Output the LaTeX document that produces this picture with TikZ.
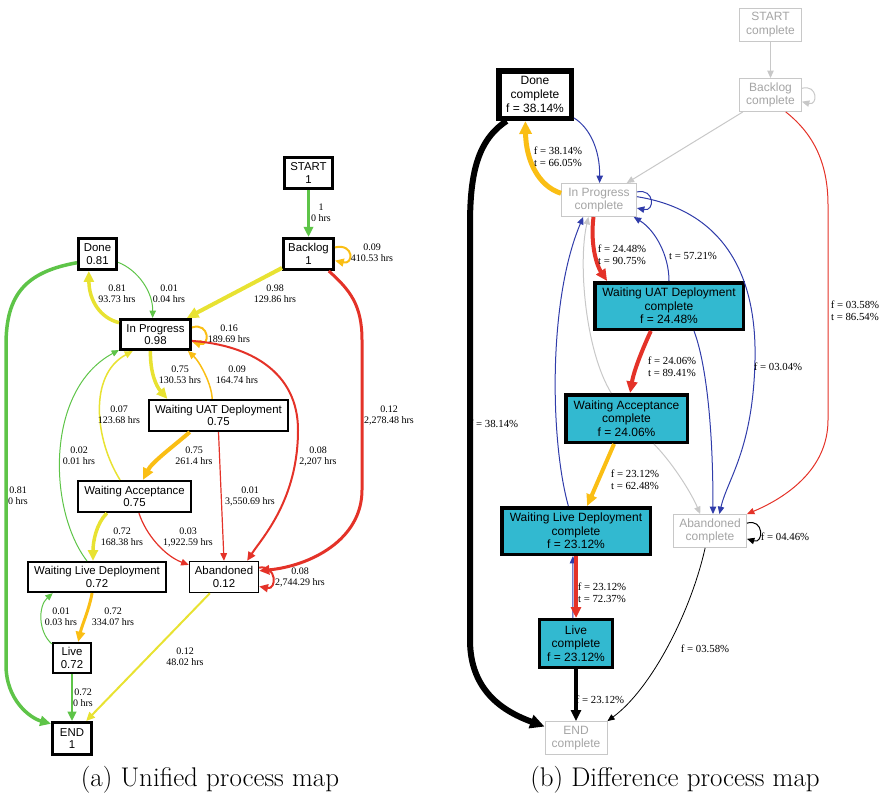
\documentclass[tikz,border=0pt]{standalone}
\usepackage{fontspec}
\newfontfamily\nodefont{Liberation Sans}
\newfontfamily\lblfont{Liberation Serif}
\usetikzlibrary{arrows.meta}
\definecolor{flowgreen}{RGB}{94,196,72}
\definecolor{flowyellow}{RGB}{232,226,50}
\definecolor{floworange}{RGB}{250,190,20}
\definecolor{flowred}{RGB}{228,50,40}
\definecolor{flowblue}{RGB}{48,60,170}
\definecolor{difffill}{RGB}{50,185,208}
\definecolor{fadegray}{RGB}{200,200,200}
\definecolor{fadetext}{RGB}{165,165,165}

\begin{document}
\begin{tikzpicture}[
            x=1pt, y=-1pt,
            box/.style={rectangle, draw, line width=3pt, align=center, inner sep=1pt,
                        font=\nodefont\fontsize{11.4}{12.7}\selectfont},
            midbox/.style={box, line width=2.2pt},
            thinbox/.style={box, line width=1.4pt},
            diffbox/.style={rectangle, draw, line width=3.5pt, fill=difffill, align=center,
                        inner sep=1pt, font=\nodefont\fontsize{12}{13.7}\selectfont},
            fadebox/.style={diffbox, draw=fadegray, line width=0.9pt, fill=white, text=fadetext},
            lbl/.style={font=\lblfont\fontsize{10}{11}\selectfont, align=center,
                        inner sep=0pt, text=black},
            dlbl/.style={lbl, font=\lblfont\fontsize{10.8}{11.7}\selectfont},
            arrow/.style={-{Triangle[length=6pt 1.4, width=5pt 1.4]}, line width=1pt},
            caption/.style={font=\fontsize{27}{31}\selectfont, inner sep=0pt}
        ]
            \useasboundingbox (0,0) rectangle (886,795);

            \node[box, minimum width=48pt, minimum height=31pt] (ustart) at (308.5,173) {START\\1};
            \node[box, minimum width=50pt, minimum height=31pt] (ubacklog) at (308.5,254) {Backlog\\1};
            \node[box, minimum width=38pt, minimum height=31pt] (udone) at (97.5,254) {Done\\0.81};
            \node[box, minimum width=70pt, minimum height=30pt] (uprog) at (155.5,334.5) {In Progress\\0.98};
            \node[midbox, minimum width=139pt, minimum height=31pt] (uuat) at (218.5,415.5) {Waiting UAT Deployment\\0.75};
            \node[midbox, minimum width=113pt, minimum height=31pt] (uacc) at (134.5,496.5) {Waiting Acceptance\\0.75};
            \node[midbox, minimum width=138pt, minimum height=30pt] (ulivedep) at (97,577) {Waiting Live Deployment\\0.72};
            \node[thinbox, minimum width=69pt, minimum height=31pt] (uaband) at (224,577) {Abandoned\\0.12};
            \node[midbox, minimum width=38pt, minimum height=30pt] (ulive) at (72,658) {Live\\0.72};
            \node[box, minimum width=39pt, minimum height=32pt] (uend) at (72,738.5) {END\\1};

            \draw[arrow, flowgreen, line width=3pt] (ustart) -- (ubacklog)
                node[lbl] (ul1) at (321,213) {1\\0 hrs};
            \draw[arrow, floworange, line width=2pt] (ubacklog.14) .. controls (354,243) and (354,265) .. (ubacklog.-14)
                node[lbl] (ul2) at (372,253) {0.09\\410.53 hrs};
            \draw[arrow, flowyellow, line width=4pt] (ubacklog) -- (uprog)
                node[lbl] (ul3) at (275,294) {0.98\\129.86 hrs};
            \draw[arrow, flowred, line width=3pt] (ubacklog.-40) .. controls (350,290) and (362,305) .. (362,340)
                -- (362,490) .. controls (362,540) and (310,566) .. (uaband.10)
                node[lbl] (ul4) at (389,415) {0.12\\2,278.48 hrs};
            \draw[arrow, flowgreen] (udone.-22) .. controls (138,270) and (153,292) .. (uprog.100)
                node[lbl] (ul5) at (169,294) {0.01\\0.04 hrs};
            \draw[arrow, flowyellow, line width=3.5pt] (uprog.162) .. controls (100,318) and (89,300) .. (udone.-117)
                node[lbl] (ul6) at (117,294) {0.81\\93.73 hrs};
            \draw[arrow, flowgreen, line width=3.5pt] (udone.-157) .. controls (25,272) and (6,295) .. (6,345)
                -- (6,665) .. controls (6,700) and (30,718) .. (uend.145)
                node[lbl] (ul7) at (18,496) {0.81\\0 hrs};
            \draw[arrow, floworange, line width=2pt] (uprog.11) .. controls (210,322) and (210,347) .. (uprog.-11)
                node[lbl] (ul8) at (229,334) {0.16\\189.69 hrs};
            \draw[arrow, flowyellow, line width=3.5pt] (uprog.-107) .. controls (150,372) and (156,386) .. (uuat.162)
                node[lbl] (ul9) at (180,375) {0.75\\130.53 hrs};
            \draw[arrow, floworange, line width=1.5pt] (uuat.111) .. controls (212,385) and (200,362) .. (uprog.-27)
                node[lbl] (ul10) at (237,375) {0.09\\164.74 hrs};
            \draw[arrow, flowred, line width=2pt] (uprog.-10) .. controls (250,345) and (298,372) .. (298,430)
                .. controls (298,500) and (262,538) .. (uaband.35)
                node[lbl] (ul11) at (318,456) {0.08\\2,207 hrs};
            \draw[arrow, floworange, line width=4pt] (uuat.-150) .. controls (175,445) and (152,462) .. (uacc.63)
                node[lbl] (ul12) at (194,456) {0.75\\261.4 hrs};
            \draw[arrow, flowred, line width=1.2pt] (uuat.south) -- (uaband.north)
                node[lbl] (ul13) at (250,496) {0.01\\3,550.69 hrs};
            \draw[arrow, flowyellow, line width=1.5pt] (uacc.131) .. controls (95,440) and (88,375) .. (uprog.-144)
                node[lbl] (ul14) at (119,415) {0.07\\123.68 hrs};
            \draw[arrow, flowgreen] (ulivedep.122) .. controls (48,510) and (45,390) .. (uprog.-157)
                node[lbl] (ul15) at (79,456) {0.02\\0.01 hrs};
            \draw[arrow, flowyellow, line width=3.5pt] (uacc.-149) .. controls (96,524) and (93,542) .. (ulivedep.104)
                node[lbl] (ul16) at (122,537) {0.72\\168.38 hrs};
            \draw[arrow, flowred, line width=1.2pt] (uacc.-75) .. controls (146,535) and (165,556) .. (uaband.161)
                node[lbl] (ul17) at (188,537) {0.03\\1,922.59 hrs};
            \draw[arrow, flowred, line width=2pt] (uaband.15) .. controls (277,565) and (277,590) .. (uaband.-15)
                node[lbl] (ul18) at (300,577) {0.08\\2,744.29 hrs};
            \draw[arrow, floworange, line width=3pt] (ulivedep.-107) .. controls (89,610) and (82,625) .. (ulive.69)
                node[lbl] (ul19) at (113,617) {0.72\\334.07 hrs};
            \draw[arrow, flowgreen] (ulive.145) .. controls (38,632) and (38,606) .. (ulivedep.-160)
                node[lbl] (ul20) at (61,617) {0.01\\0.03 hrs};
            \draw[arrow, flowgreen, line width=2.5pt] (ulive) -- (uend)
                node[lbl] (ul21) at (83,698) {0.72\\0 hrs};
            \draw[arrow, flowyellow, line width=2pt] (uaband.-131) -- (uend.51)
                node[lbl] (ul22) at (185,657) {0.12\\48.02 hrs};

            \node[fadebox, minimum width=62pt, minimum height=33pt] (dstart) at (770.5,24.5) {START\\complete};
            \node[fadebox, minimum width=62pt, minimum height=33pt] (dbacklog) at (770.5,95) {Backlog\\complete};
            \node[diffbox, fill=white, line width=5.5pt, minimum width=72.5pt, minimum height=47.5pt] (ddone) at (535,94.5) {Done\\complete\\f = 38.14\%};
            \node[fadebox, minimum width=75pt, minimum height=33pt] (dprog) at (599,200) {In Progress\\complete};
            \node[diffbox, minimum width=148.5pt, minimum height=46.5pt] (duat) at (669,306) {Waiting UAT Deployment\\complete\\f = 24.48\%};
            \node[diffbox, minimum width=121.5pt, minimum height=47.5pt] (dacc) at (626.5,418.5) {Waiting Acceptance\\complete\\f = 24.06\%};
            \node[diffbox, minimum width=148.5pt, minimum height=46.5pt] (dlivedep) at (576,531) {Waiting Live Deployment\\complete\\f = 23.12\%};
            \node[fadebox, minimum width=73pt, minimum height=33pt] (daband) at (710,531) {Abandoned\\complete};
            \node[diffbox, line width=3pt, minimum width=73pt, minimum height=48pt] (dlive) at (576,643.5) {Live\\complete\\f = 23.12\%};
            \node[fadebox, minimum width=62pt, minimum height=33pt] (dend) at (576,738) {END\\complete};

            \draw[arrow, fadegray] (dstart) -- (dbacklog);
            \draw[arrow, fadegray] (dbacklog.12) .. controls (818,84) and (818,106) .. (dbacklog.-12);
            \draw[arrow, fadegray] (dbacklog) -- (dprog);
            \draw[arrow, flowred] (dbacklog.-48) .. controls (815,135) and (828,165) .. (828,205)
                -- (828,420) .. controls (828,470) and (785,498) .. (daband.north east)
                node[dlbl] (dl1) at (855,311) {f = 03.58\%\\t = 86.54\%};
            \draw[arrow, floworange, line width=5pt] (dprog.170) .. controls (538,186) and (526,160) .. (ddone.-110)
                node[dlbl] (dl2) at (558,157) {f = 38.14\%\\t = 66.05\%};
            \draw[arrow, flowblue] (ddone.-31) .. controls (590,128) and (600,150) .. (dprog.88);
            \draw[arrow, flowblue] (dprog.12) .. controls (655,188) and (655,212) .. (dprog.-12);
            \draw[arrow, flowred, line width=4pt] (dprog.-108) .. controls (590,245) and (597,266) .. (duat.158)
                node[dlbl] (dl3) at (622,255) {f = 24.48\%\\t = 90.75\%};
            \draw[arrow, flowblue] (duat.90) .. controls (669,255) and (655,230) .. (dprog.-26)
                node[dlbl] (dl4) at (693,256) {t = 57.21\%};
            \draw[arrow, flowblue] (dprog.5) .. controls (720,210) and (757,270) .. (755,360)
                .. controls (753,450) and (727,480) .. (daband.61)
                node[dlbl] (dl5) at (778,367) {f = 03.04\%};
            \draw[arrow, flowblue] (duat.-45) .. controls (705,360) and (713,420) .. (daband.80);
            \draw[arrow, flowred, line width=4pt] (duat.-126) .. controls (643,348) and (634,370) .. (dacc.82)
                node[dlbl] (dl6) at (672,367) {f = 24.06\%\\t = 89.41\%};
            \draw[arrow, fadegray] (dacc.121) .. controls (585,350) and (578,262) .. (dprog.-122);
            \draw[arrow, flowblue] (dlivedep.107) .. controls (550,440) and (548,300) .. (dprog.-133);
            \draw[arrow, floworange, line width=4pt] (dacc.-116) -- (dlivedep.66)
                node[dlbl] (dl7) at (635,480) {f = 23.12\%\\t = 62.48\%};
            \draw[arrow, fadegray] (dacc.-43) .. controls (670,460) and (690,490) .. (daband.120);
            \draw[arrow, black] (daband.12) .. controls (764,518) and (764,544) .. (daband.-12)
                node[dlbl] (dl8) at (785,537) {f = 04.46\%};
            \draw[arrow, flowblue] (dlive.97) -- (dlivedep.-97);
            \draw[arrow, flowred, line width=3.5pt] (dlivedep) -- (dlive)
                node[dlbl] (dl9) at (602,593) {f = 23.12\%\\t = 72.37\%};
            \draw[arrow, black, line width=3.5pt] (dlive) -- (dend)
                node[dlbl] (dl10) at (600,700) {f = 23.12\%};
            \draw[arrow, black, line width=6pt] (ddone.-137) .. controls (478,140) and (470,172) .. (470,225)
                -- (470,640) .. controls (470,692) and (505,712) .. (dend.160)
                node[dlbl] (dl11) at (494,424) {f = 38.14\%};
            \draw[arrow, black, line width=0.8pt] (daband.-106) .. controls (690,615) and (650,690) .. (dend.north east)
                node[dlbl] (dl12) at (705,649) {f = 03.58\%};

            \node[caption] (capa) at (210,780) {(a) Unified process map};
            \node[caption] (capb) at (675,780) {(b) Difference process map};
        \end{tikzpicture}
\end{document}
